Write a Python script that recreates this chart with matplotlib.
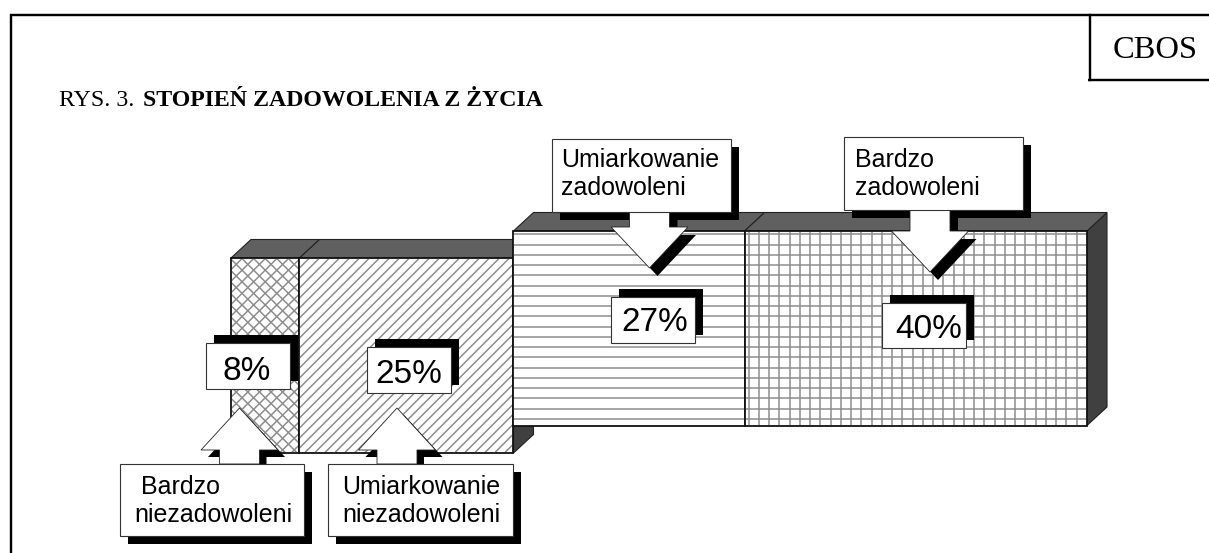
import numpy as np
import matplotlib
matplotlib.use('Agg')
import matplotlib.pyplot as plt
from matplotlib.patches import Polygon, Rectangle
from matplotlib.collections import LineCollection

title_plain = 'RYS. 3.'
title_bold = 'STOPIEŃ ZADOWOLENIA Z ŻYCIA'
source_label = 'CBOS'
shares = [8, 25, 27, 40]
share_labels = ['8%', '25%', '27%', '40%']
group_labels = [' Bardzo\nniezadowoleni', 'Umiarkowanie\nniezadowoleni', 'Umiarkowanie\nzadowoleni', 'Bardzo\nzadowoleni']

W, H = 1209, 553
px = 0.72  # one pixel in points at dpi 100
SANS = 'Liberation Sans'
SERIF = 'Liberation Serif'

fig = plt.figure(figsize=(W / 100, H / 100), dpi=100)
ax = fig.add_axes([0, 0, 1, 1])
ax.set_xlim(0, W)
ax.set_ylim(H, 0)
ax.axis('off')

# bar layout, one percent is 8.56 px
x0 = 231
scale = 8.56
lefts = x0 + np.concatenate([[0], np.cumsum(shares)[:-1]]) * scale
widths = np.array(shares) * scale
tops = [258, 258, 231, 231]
bar_h = [195, 195, 194.5, 194.5]
dx, dy = 20, 18.5


def hatch_lines(kind, x, y, w, h):
    segs = []
    if kind in ('-', '+'):
        for yy in np.arange(y + 3.3, y + h, 10.25):
            segs.append([(x, yy), (x + w, yy)])
    if kind == '+':
        for xx in np.arange(x + 4, x + w, 10.25):
            segs.append([(xx, y), (xx, y + h)])
    if kind in ('/', 'x'):
        step = 10 if kind == '/' else 11.6
        for c in np.arange(0, w + h + step, step):
            segs.append([(x + c - h, y + h), (x + c, y)])
    if kind == 'x':
        for c in np.arange(0, w + h + 11.6, 11.6):
            segs.append([(x + w - c + h, y + h), (x + w - c, y)])
    return segs


hatches = ['x', '/', '-', '+']
for i in range(4):
    l, w, t, h = lefts[i], widths[i], tops[i], bar_h[i]
    # side and top faces first
    ax.add_patch(Polygon([(l + w, t), (l + w + dx, t - dy), (l + w + dx, t + h - dy), (l + w, t + h)],
                         fc='#404040', ec='#222222', lw=0.8, zorder=i + 1))
    ax.add_patch(Polygon([(l, t), (l + dx, t - dy), (l + w + dx, t - dy), (l + w, t)],
                         fc='#606060', ec='#222222', lw=0.8, zorder=i + 1))
    ax.bar(l, h, w, bottom=t, align='edge', color='white', edgecolor='#111111', lw=1.3, zorder=i + 1.1)
    lc = LineCollection(hatch_lines(hatches[i], l, t, w, h), colors='#8c8c8c', linewidths=1.5 * px, zorder=i + 1.2)
    ax.add_collection(lc)
    lc.set_clip_path(Rectangle((l + 1, t + 1), w - 2, h - 2, transform=ax.transData))


def box(x1, y1, x2, y2, txt, size, tx, ty, sx=8, sy=-8, ha='left', z=10):
    # shadow stays under the arrow, white box goes over it
    ax.add_patch(Rectangle((x1 + sx, y1 + sy), x2 - x1, y2 - y1, fc='black', ec='none', zorder=z))
    ax.add_patch(Rectangle((x1, y1), x2 - x1, y2 - y1, fc='white', ec='#333333', lw=0.8, zorder=z + 4))
    # ty is the baseline of the last line
    ax.text(tx, ty, txt, fontsize=size, family=SANS, ha=ha, va='baseline',
            linespacing=1.2, color='black', zorder=z + 5)


# value boxes
box(206, 343, 290, 389, share_labels[0], 24, 223, 380)
box(367, 347, 451, 393, share_labels[1], 24, 375, 383)
box(611, 297, 695, 343, share_labels[2], 24, 621.5, 331)
box(882, 303, 966, 348, share_labels[3], 24, 895, 338)


def arrow(cx, tip, base, root, s, head=38.5, stem=20):
    pts = [(cx - stem, root), (cx - stem, base), (cx - head, base), (cx, tip),
           (cx + head, base), (cx + stem, base), (cx + stem, root)]
    ax.add_patch(Polygon([(a + s, b + s) for a, b in pts], fc='black', ec='none', zorder=11))
    ax.add_patch(Polygon(pts, fc='white', ec='#222222', lw=0.6, zorder=12))


# callouts
arrow(239.5, 408, 450, 464, 7)
arrow(397, 408, 450, 464, 7)
arrow(649.5, 268, 227, 212, 8)
arrow(930, 272, 231, 210, 8)
box(120, 464, 304, 536, group_labels[0], 18, 134, 522, sx=8, sy=8)
box(328, 464, 513, 536, group_labels[1], 18, 342, 522, sx=8, sy=8)
box(552, 139, 731, 212, group_labels[2], 18, 561.5, 195, sx=8, sy=8)
box(844, 137, 1023, 210, group_labels[3], 18, 855, 195, sx=8, sy=8)

# frame and source box
frame_lw = 2.4 * px
ax.plot([11, 11, W], [H, 15, 15], color='black', lw=frame_lw, zorder=20, solid_joinstyle='miter', solid_capstyle='butt')
ax.plot([1090, 1090], [15, 80], color='black', lw=frame_lw, zorder=20)
ax.plot([1088, W], [80, 80], color='black', lw=frame_lw, zorder=20, solid_capstyle='butt')
ax.text(1113, 58, source_label, fontsize=23.4, family=SERIF, ha='left', va='baseline')
ax.text(59, 106, title_plain, fontsize=17.2, family=SERIF, ha='left', va='baseline')
ax.text(143, 106, title_bold, fontsize=17.2, family=SERIF, weight='bold', ha='left', va='baseline')

fig.savefig('out.png', dpi=100, facecolor='white')
